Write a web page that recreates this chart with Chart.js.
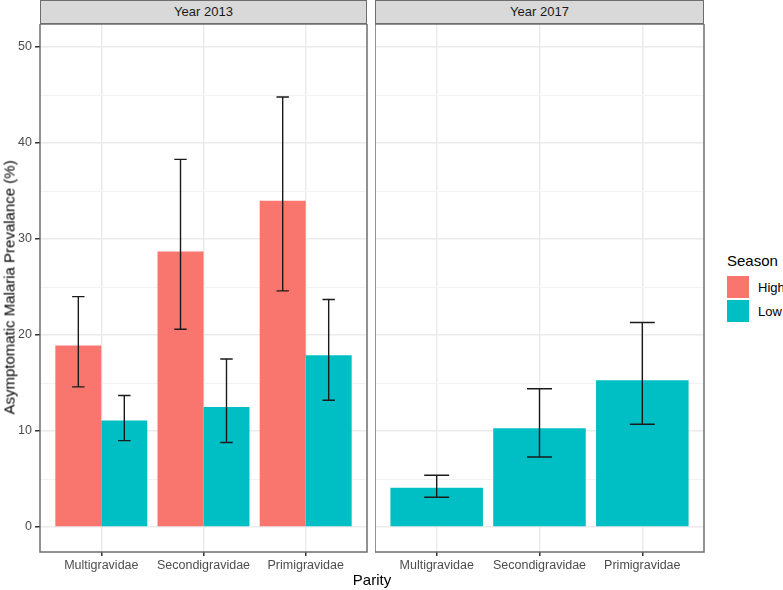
<!DOCTYPE html>
<html>
<head>
<meta charset="utf-8">
<script src="https://cdn.jsdelivr.net/npm/chart.js@4"></script>
<style>
  body { margin: 0; background: #fff; font-family: "Liberation Sans", Arial, sans-serif; }
  #wrap { position: relative; width: 783px; height: 590px; }
  canvas { position: absolute; }
  .strip { position: absolute; top: 0; height: 24px; background: #d9d9d9; border: 1.5px solid #6e6e6e;
           box-sizing: border-box; text-align: center; font-size: 13px; line-height: 22px; color: #1a1a1a; }
  .title { position: absolute; font-size: 15px; color: #000; }
  .key { position: absolute; width: 22px; height: 22px; }
  .keytxt { position: absolute; font-size: 13px; color: #000; }
</style>
</head>
<body>
<div id="wrap">
  <div class="strip" style="left:40px; width:327px;">Year 2013</div>
  <div class="strip" style="left:375px; width:329px;">Year 2017</div>
  <canvas id="c2013" width="368" height="566" style="left:0; top:24px;"></canvas>
  <canvas id="c2017" width="330" height="566" style="left:375px; top:24px;"></canvas>
  <div class="title" style="left:-131px; top:279px; width:280px; text-align:center; transform:rotate(-90deg);">Asymptomatic Malaria Prevalance (%)</div>
  <div class="title" style="left:322px; top:571px; width:100px; text-align:center;">Parity</div>
  <div class="title" style="left:727px; top:252px;">Season</div>
  <div class="key" style="left:727px; top:276px; background:#F8766D;"></div>
  <div class="keytxt" style="left:758px; top:280px;">High</div>
  <div class="key" style="left:727px; top:300px; background:#00BFC4;"></div>
  <div class="keytxt" style="left:758px; top:304px;">Low</div>
</div>
<script>
const parity = ["Multigravidae", "Secondigravidae", "Primigravidae"];
const seasons = ["High", "Low"];
const seasonColors = ["#F8766D", "#00BFC4"];

// Year 2013: High and Low season
const high2013 = [18.9, 28.7, 34.0];
const high2013Lo = [14.6, 20.6, 24.6];
const high2013Hi = [24.0, 38.3, 44.8];
const low2013 = [11.1, 12.5, 17.9];
const low2013Lo = [9.0, 8.8, 13.2];
const low2013Hi = [13.7, 17.5, 23.7];

// Year 2017: Low season only
const low2017 = [4.1, 10.3, 15.3];
const low2017Lo = [3.1, 7.3, 10.7];
const low2017Hi = [5.4, 14.4, 21.3];

const yTicks = [0, 5, 10, 15, 20, 25, 30, 35, 40, 45, 50];

const toPoints = vals => vals.map((v, i) => ({ x: i + 1, y: v }));

const errorBars = {
  id: "errorBars",
  afterDatasetsDraw(chart) {
    const ctx = chart.ctx;
    const y = chart.scales.y;
    chart.data.datasets.forEach((ds, di) => {
      const meta = chart.getDatasetMeta(di);
      meta.data.forEach((bar, i) => {
        const half = bar.width * 0.135;
        const top = y.getPixelForValue(ds.errHi[i]);
        const bot = y.getPixelForValue(ds.errLo[i]);
        ctx.save();
        ctx.strokeStyle = "#1a1a1a";
        ctx.lineWidth = 1.4;
        ctx.beginPath();
        ctx.moveTo(bar.x, top); ctx.lineTo(bar.x, bot);
        ctx.moveTo(bar.x - half, top); ctx.lineTo(bar.x + half, top);
        ctx.moveTo(bar.x - half, bot); ctx.lineTo(bar.x + half, bot);
        ctx.stroke();
        ctx.restore();
      });
    });
  },
  afterDraw(chart) {
    const a = chart.chartArea;
    const ctx = chart.ctx;
    ctx.save();
    ctx.strokeStyle = "#6e6e6e";
    ctx.lineWidth = 1.5;
    ctx.strokeRect(a.left, a.top, a.right - a.left, a.bottom - a.top);
    ctx.restore();
  }
};

function makeChart(id, datasets, showY) {
  return new Chart(document.getElementById(id), {
    type: "bar",
    data: { datasets: datasets },
    plugins: [errorBars],
    options: {
      responsive: false,
      animation: false,
      layout: { padding: { top: 0, right: 1, left: 0, bottom: 0 } },
      plugins: { legend: { display: false }, tooltip: { enabled: false } },
      datasets: { bar: { categoryPercentage: 0.9, barPercentage: 1.0 } },
      scales: {
        x: {
          type: "linear",
          min: 0.4,
          max: 3.6,
          offset: false,
          afterBuildTicks: s => { s.ticks = parity.map((p, i) => ({ value: i + 1 })); },
          afterFit: s => { s.height = 38; s.paddingLeft = 0; s.paddingRight = 0; },
          border: { display: false },
          grid: { offset: false, color: "#ebebeb", lineWidth: 1.5, tickLength: 4, tickColor: "#333333" },
          ticks: {
            callback: v => parity[v - 1],
            color: "#4d4d4d",
            font: { family: "Liberation Sans, Arial", size: 12.5 },
            padding: 2,
            maxRotation: 0,
            autoSkip: false
          }
        },
        y: {
          min: -2.6,
          max: 52.4,
          afterBuildTicks: s => { s.ticks = yTicks.map(v => ({ value: v })); },
          afterFit: s => { s.width = showY ? 40 : 0; s.paddingTop = 0; s.paddingBottom = 0; },
          border: { display: false },
          grid: {
            color: c => c.tick && c.tick.value % 10 === 0 ? "#ebebeb" : "#f2f2f2",
            lineWidth: c => c.tick && c.tick.value % 10 === 0 ? 1.5 : 1,
            tickLength: showY ? 5 : 0,
            drawTicks: showY,
            tickColor: c => c.tick && c.tick.value % 10 === 0 ? "#333333" : "rgba(0,0,0,0)"
          },
          ticks: {
            display: showY,
            callback: v => (v % 10 === 0 ? v : ""),
            color: "#4d4d4d",
            font: { family: "Liberation Sans, Arial", size: 12.5 },
            padding: 3
          }
        }
      }
    }
  });
}

makeChart("c2013", [
  { label: seasons[0], data: toPoints(high2013), errLo: high2013Lo, errHi: high2013Hi, backgroundColor: seasonColors[0] },
  { label: seasons[1], data: toPoints(low2013), errLo: low2013Lo, errHi: low2013Hi, backgroundColor: seasonColors[1] }
], true);

makeChart("c2017", [
  { label: seasons[1], data: toPoints(low2017), errLo: low2017Lo, errHi: low2017Hi, backgroundColor: seasonColors[1] }
], false);
</script>
</body>
</html>
